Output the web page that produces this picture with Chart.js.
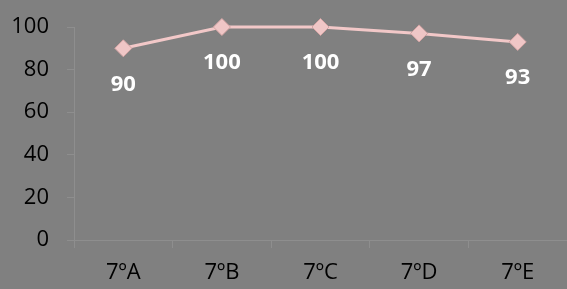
<!DOCTYPE html>
<html>
<head>
<meta charset="utf-8">
<script src="https://cdn.jsdelivr.net/npm/chart.js@4"></script>
<style>
html,body{margin:0;padding:0;background:#808080;}
#wrap{width:567px;height:289px;position:relative;}
</style>
</head>
<body>
<div id="wrap"><canvas id="c" width="567" height="289"></canvas></div>
<script>
const categories = ["7ºA", "7ºB", "7ºC", "7ºD", "7ºE"];
const values = [90, 100, 100, 97, 93];
const yTicks = [0, 20, 40, 60, 80, 100];

const labelPlugin = {
  id: 'valueLabels',
  afterDatasetsDraw(chart) {
    const ctx = chart.ctx;
    const meta = chart.getDatasetMeta(0);
    ctx.save();
    ctx.fillStyle = '#ffffff';
    ctx.font = 'bold 22px "Open Sans"';
    ctx.textAlign = 'center';
    ctx.textBaseline = 'middle';
    meta.data.forEach((pt, i) => {
      ctx.fillText(String(values[i]), pt.x, pt.y + 36);
    });
    ctx.restore();
  }
};

const bgPlugin = {
  id: 'bg',
  beforeDraw(chart) {
    const ctx = chart.ctx;
    ctx.save();
    ctx.fillStyle = '#808080';
    ctx.fillRect(0, 0, chart.width, chart.height);
    ctx.restore();
  }
};

new Chart(document.getElementById('c'), {
  type: 'line',
  data: {
    labels: categories,
    datasets: [{
      data: values,
      borderColor: '#f2c8c8',
      borderWidth: 3,
      pointStyle: 'rectRot',
      pointRadius: 8.5,
      pointBackgroundColor: '#efc6c6',
      pointBorderColor: '#d4a4a4',
      pointBorderWidth: 1,
      tension: 0,
      clip: false
    }]
  },
  options: {
    responsive: false,
    animation: false,
    layout: { autoPadding: false, padding: { top: 27, right: 0, left: 0, bottom: 0 } },
    plugins: { legend: { display: false }, tooltip: { enabled: false } },
    scales: {
      x: {
        offset: true,
        grid: { offset: true, drawOnChartArea: false, tickLength: 8, color: '#8e8e8e', lineWidth: 1 },
        border: { display: true, color: '#8e8e8e', width: 1 },
        ticks: { color: '#000000', font: { family: '"Open Sans"', size: 22 }, padding: 12 },
        afterFit(s) { s.height = 49; s.paddingLeft = 0; s.paddingRight = 0; }
      },
      y: {
        min: 0, max: 100,
        afterBuildTicks(s) { s.ticks = yTicks.map(v => ({ value: v })); },
        grid: { drawOnChartArea: false, tickLength: 7, color: '#8e8e8e', lineWidth: 1 },
        border: { display: true, color: '#8e8e8e', width: 1 },
        ticks: { color: '#000000', font: { family: '"Open Sans"', size: 22 }, padding: 18 },
        afterFit(s) { s.width = 74; s.paddingTop = 0; s.paddingBottom = 0; }
      }
    }
  },
  plugins: [bgPlugin, labelPlugin]
});
</script>
</body>
</html>
